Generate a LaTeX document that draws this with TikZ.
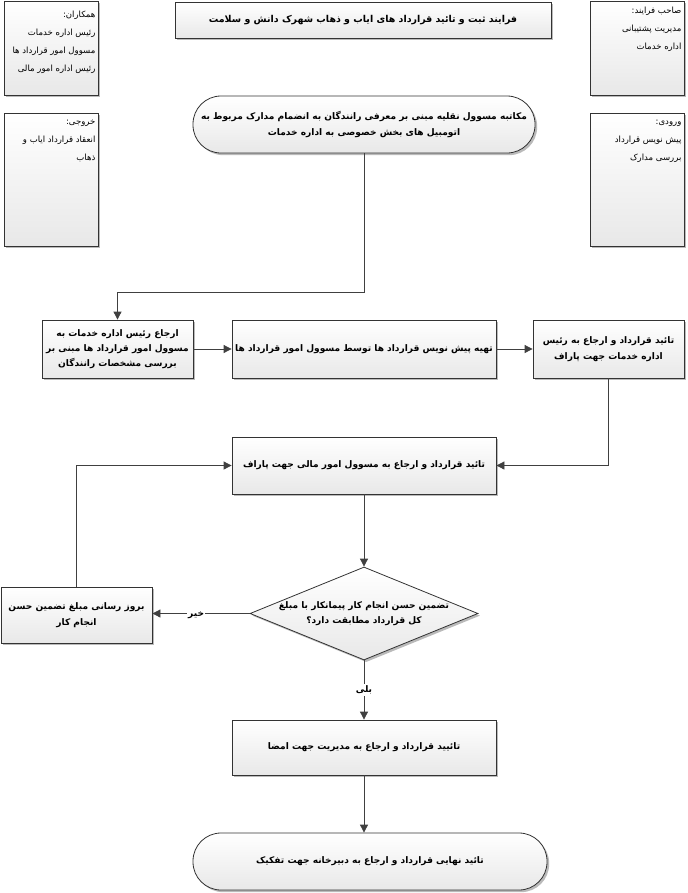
\documentclass[tikz,border=0pt]{standalone}
\usepackage{fontspec}
\TeXXeTstate=1
\newfontfamily\arabicfont[Script=Arabic]{DejaVu Sans}
\usetikzlibrary{shapes.geometric,shadows,arrows.meta}
\newcommand\rl[1]{\beginR #1\endR}
\definecolor{edge}{HTML}{333333}
\definecolor{linec}{HTML}{404040}
\begin{document}
\begin{tikzpicture}[x=0.75pt,y=-0.75pt,
  base/.style={draw=edge,line width=0.6pt,top color=white,bottom color=black!9,
    drop shadow={shadow xshift=1.6pt,shadow yshift=-1.6pt,fill=black!45,opacity=0.6},
    font=\arabicfont\bfseries\fontsize{6.8}{11.5}\selectfont,align=center,inner sep=1pt},
  proc/.style={base,rectangle},
  term/.style={base,rectangle,rounded corners=21pt},
  dec/.style={base,diamond,inner sep=0pt},
  side/.style={draw=edge,line width=0.6pt,top color=white,bottom color=black!9,
    drop shadow={shadow xshift=1.6pt,shadow yshift=-1.6pt,fill=black!45,opacity=0.6}},
  sidetext/.style={font=\arabicfont\fontsize{6.4}{13.5}\selectfont,align=right,inner sep=1pt,anchor=north east},
  conn/.style={draw=linec,line width=0.6pt,-{Triangle[length=6pt,width=6pt]}},
  lbl/.style={font=\arabicfont\bfseries\fontsize{6.8}{9}\selectfont,fill=white,inner sep=1pt}]
\useasboundingbox (0,0) rectangle (687,893);

% side boxes
\node[side,rectangle,minimum width=70.5pt,minimum height=70.5pt,inner sep=0] (sl1) at (51,48) {};
\node[sidetext] (sl1t) at (97,9) {\rl{همکاران:}\\\rl{رئیس اداره خدمات}\\\rl{مسوول امور قرارداد ها}\\\rl{رئیس اداره امور مالی}};
\node[side,rectangle,minimum width=70.5pt,minimum height=99.75pt,inner sep=0] (sl2) at (51,179.5) {};
\node[sidetext] (sl2t) at (97,118) {\rl{خروجی:}\\\rl{انعقاد قرارداد ایاب و}\\\rl{ذهاب}};
\node[side,rectangle,minimum width=70.5pt,minimum height=70.5pt,inner sep=0] (sr1) at (637,48) {};
\node[sidetext] (sr1t) at (683,5) {\rl{صاحب فرایند:}\\\rl{مدیریت پشتیبانی}\\\rl{اداره خدمات}};
\node[side,rectangle,minimum width=70.5pt,minimum height=99.75pt,inner sep=0] (sr2) at (637,179.5) {};
\node[sidetext] (sr2t) at (683,118) {\rl{ورودی:}\\\rl{پیش نویس قرارداد}\\\rl{بررسی مدارک}};

% title
\node[proc,minimum width=282pt,minimum height=27pt,font=\arabicfont\bfseries\fontsize{7.1}{11}\selectfont] (title) at (363,20) {\rl{فرایند ثبت و تائید قرارداد های ایاب و ذهاب شهرک دانش و سلامت}};

% flow
\node[term,minimum width=256.5pt,minimum height=42.75pt] (start) at (364,124.5) {\rl{مکاتبه مسوول نقلیه مبنی بر معرفی رانندگان به انضمام مدارک مربوط به}\\\rl{اتومبیل های بخش خصوصی به اداره خدمات}};
\node[proc,minimum width=113.25pt,minimum height=43.5pt] (A) at (117.5,349) {\rl{ارجاع رئیس اداره خدمات  به}\\\rl{مسوول امور قرارداد ها مبنی بر}\\\rl{بررسی مشخصات رانندگان}};
\node[proc,minimum width=198pt,minimum height=43.5pt] (B) at (364,349) {\rl{تهیه پیش نویس قرارداد ها توسط مسوول امور قرارداد ها}};
\node[proc,minimum width=113.25pt,minimum height=43.5pt] (C) at (608.5,349) {\rl{تائید قرارداد و ارجاع به رئیس}\\\rl{اداره خدمات جهت پاراف}};
\node[proc,minimum width=198pt,minimum height=42.75pt] (D) at (364,465.5) {\rl{تائید قرارداد و ارجاع به مسوول امور مالی جهت پاراف}};
\node[dec,minimum width=171pt,minimum height=69.75pt] (dia) at (364,613.5) {};
\node[font=\arabicfont\bfseries\fontsize{6.8}{11.5}\selectfont,align=center] (diat) at (dia.center) {\rl{تضمین حسن انجام کار پیمانکار با مبلغ}\\\rl{کل قرارداد مطابقت دارد؟}};
\node[proc,minimum width=113.25pt,minimum height=42pt] (E) at (76.5,615) {\rl{بروز رسانی مبلغ تضمین حسن}\\\rl{انجام کار}};
\node[proc,minimum width=198pt,minimum height=41.25pt] (F) at (364,747.5) {\rl{تائیید  قرارداد و ارجاع به مدیریت جهت امضا}};
\node[term,minimum width=265.5pt,minimum height=42.75pt] (end) at (370,861.5) {\rl{تائید نهایی قرارداد و ارجاع به دبیرخانه جهت تفکیک}};

% connectors
\coordinate (b1) at (364,292);
\draw[conn] (start.south) -- (b1) -| (A.north);
\draw[conn] (A.east) -- (B.west);
\draw[conn] (B.east) -- (C.west);
\draw[conn] (C.south) |- (D.east);
\draw[conn] (E.north) |- (D.west);
\draw[conn] (D.south) -- (dia.north);
\draw[conn] (dia.west) -- node[lbl,pos=0.55,yshift=-1pt] (no) {\rl{خیر}} (E.east |- dia.west);
\draw[conn] (dia.south) -- node[lbl,pos=0.5] (yes) {\rl{بلی}} (F.north);
\draw[conn] (F.south) -- (F.south |- end.north);
\end{tikzpicture}
\end{document}
